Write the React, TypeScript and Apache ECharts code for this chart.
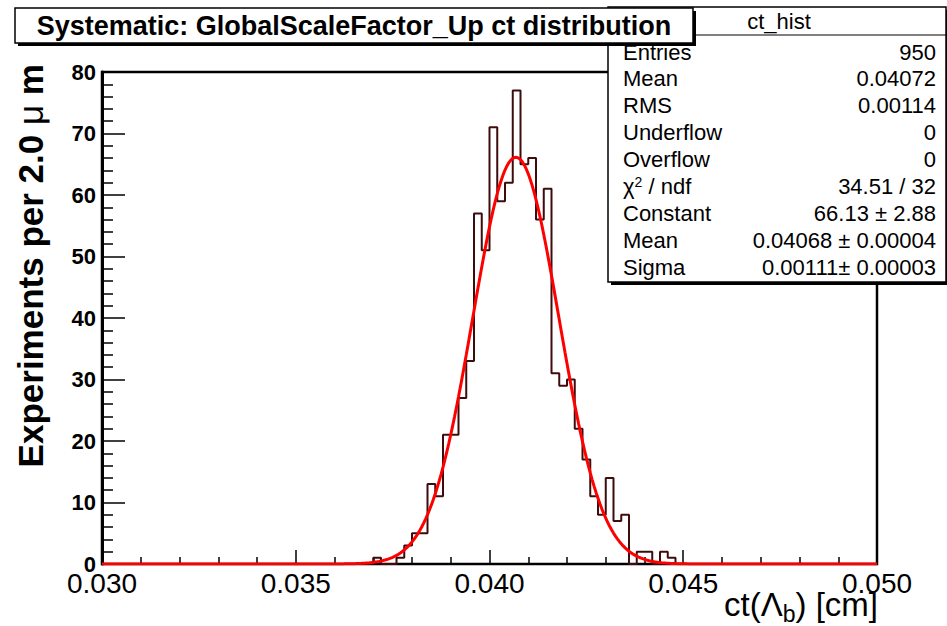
import React, { useEffect, useRef } from 'react';
import * as echarts from 'echarts';

const X_MIN = 0.03;
const X_MAX = 0.05;
const BIN_WIDTH = 0.0002;
const X_LABEL_INTERVAL = 0.005;
const Y_MIN = 0;
const Y_MAX = 80;
const Y_LABEL_INTERVAL = 10;

// 100 bins of 2.0 µm from 0.030 to 0.050 cm
const COUNTS = [
  0, 0, 0, 0, 0, 0, 0, 0, 0, 0,
  0, 0, 0, 0, 0, 0, 0, 0, 0, 0,
  0, 0, 0, 0, 0, 0, 0, 0, 0, 0,
  0, 0, 0, 0, 0, 1, 0, 0, 1, 3,
  5, 5, 13, 11, 21, 21, 27, 33, 57, 51,
  71, 59, 62, 77, 65, 66, 56, 61, 31, 29,
  30, 22, 17, 11, 8, 14, 7, 8, 0, 2,
  2, 0, 2, 1, 0, 0, 0, 0, 0, 0,
  0, 0, 0, 0, 0, 0, 0, 0, 0, 0,
  0, 0, 0, 0, 0, 0, 0, 0, 0, 0,
];

const FIT_CONSTANT = 66.13;
const FIT_MEAN = 0.04068;
const FIT_SIGMA = 0.00111;

const TITLE = 'Systematic: GlobalScaleFactor_Up ct distribution';
const STATS_NAME = 'ct_hist';
const STATS_LABELS = ['Entries', 'Mean', 'RMS', 'Underflow', 'Overflow', '{n|χ}{sup|2}{n| / ndf}', 'Constant', 'Mean', 'Sigma'];
const STATS_VALUES = ['950', '0.04072', '0.00114', '0', '0', '34.51 / 32', '66.13 ± 2.88', '0.04068 ± 0.00004', '0.00111± 0.00003'];

const FONT = '"Liberation Sans", Arial, Helvetica, sans-serif';

export default function App() {
  const ref = useRef<HTMLDivElement>(null);
  useEffect(() => {
    if (!ref.current) return;
    const chart = echarts.init(ref.current, null, { renderer: 'svg' });

    const histData: number[][] = COUNTS.map((c, i) => [X_MIN + i * BIN_WIDTH, c]);
    histData.push([X_MAX, COUNTS[COUNTS.length - 1]]);

    const fitData: number[][] = [];
    const nFit = 400;
    for (let k = 0; k <= nFit; k++) {
      const x = X_MIN + (k * (X_MAX - X_MIN)) / nFit;
      const z = (x - FIT_MEAN) / FIT_SIGMA;
      fitData.push([x, FIT_CONSTANT * Math.exp(-0.5 * z * z)]);
    }

    const rowY0 = 52;
    const rowStep = 26.9;
    const statsTexts: any[] = [];
    STATS_LABELS.forEach((lab, i) => {
      statsTexts.push({
        type: 'text', x: 623, y: rowY0 + i * rowStep, z: 12,
        style: {
          text: lab, fontSize: 22, fontFamily: FONT, fill: '#000',
          align: 'left', verticalAlign: 'middle',
          rich: {
            n: { fontSize: 22, fontFamily: FONT, fill: '#000', lineHeight: 24 },
            sup: { fontSize: 14, fontFamily: FONT, fill: '#000', verticalAlign: 'top', lineHeight: 14 },
          },
        },
      });
      statsTexts.push({
        type: 'text', x: 936, y: rowY0 + i * rowStep, z: 12,
        style: {
          text: STATS_VALUES[i], fontSize: 22, fontFamily: FONT, fill: '#000',
          align: 'right', verticalAlign: 'middle',
        },
      });
    });

    chart.setOption({
      animation: false,
      backgroundColor: '#fff',
      grid: {
        left: 102, right: 70, top: 72, bottom: 62,
        show: true, borderColor: '#000', borderWidth: 2.5, backgroundColor: 'transparent',
      },
      xAxis: {
        type: 'value', min: X_MIN, max: X_MAX, interval: X_LABEL_INTERVAL,
        axisLine: { show: true, onZero: false, lineStyle: { color: '#000', width: 2 } },
        axisTick: { show: true, inside: true, length: 14, lineStyle: { color: '#000', width: 1.5 } },
        minorTick: { show: true, splitNumber: 5, length: 7, lineStyle: { color: '#000', width: 1.5 } },
        splitLine: { show: false },
        minorSplitLine: { show: false },
        axisLabel: {
          fontSize: 28, color: '#000', fontFamily: FONT, margin: 5,
          formatter: (v: number) => v.toFixed(3),
        },
      },
      yAxis: {
        type: 'value', min: Y_MIN, max: Y_MAX, interval: Y_LABEL_INTERVAL,
        axisLine: { show: true, lineStyle: { color: '#000', width: 3 } },
        axisTick: { show: true, inside: true, length: 23, lineStyle: { color: '#000', width: 1.5 } },
        minorTick: { show: true, splitNumber: 5, length: 11, lineStyle: { color: '#000', width: 1.5 } },
        splitLine: { show: false },
        minorSplitLine: { show: false },
        axisLabel: {
          fontSize: 22, fontWeight: 'bold', color: '#000', fontFamily: FONT, margin: 6,
        },
      },
      series: [
        {
          type: 'line', data: histData, step: 'end', symbol: 'none',
          lineStyle: { color: '#3e0c0c', width: 2 }, z: 3,
        },
        {
          type: 'line', data: fitData, symbol: 'none', smooth: false,
          lineStyle: { color: '#ff0000', width: 3 }, z: 4,
        },
      ],
      graphic: [
        // stats box
        { type: 'rect', shape: { x: 611, y: 10, width: 340, height: 275 }, style: { fill: '#000' }, z: 10 },
        { type: 'rect', shape: { x: 608, y: 7, width: 338, height: 275 }, style: { fill: '#fff', stroke: '#000', lineWidth: 1.5 }, z: 11 },
        { type: 'line', shape: { x1: 608, y1: 35, x2: 946, y2: 35 }, style: { stroke: '#000', lineWidth: 1 }, z: 12 },
        {
          type: 'text', x: 779, y: 21, z: 12,
          style: { text: STATS_NAME, fontSize: 22, fontFamily: FONT, fill: '#000', align: 'center', verticalAlign: 'middle' },
        },
        ...statsTexts,
        // title box
        { type: 'rect', shape: { x: 18, y: 11, width: 678, height: 35 }, style: { fill: '#000' }, z: 20 },
        { type: 'rect', shape: { x: 15, y: 8, width: 678, height: 35 }, style: { fill: '#fff', stroke: '#000', lineWidth: 1.5 }, z: 21 },
        {
          type: 'text', x: 354, y: 26, z: 22,
          style: { text: TITLE, fontSize: 27, fontWeight: 'bold', fontFamily: FONT, fill: '#000', align: 'center', verticalAlign: 'middle' },
        },
        // y axis title
        {
          type: 'text', x: 30, y: 64, rotation: Math.PI / 2, z: 22,
          style: {
            text: '{b|Experiments per 2.0 }{m|μ}{b| m}',
            align: 'right', verticalAlign: 'middle', fill: '#000',
            rich: {
              b: { fontSize: 35, fontWeight: 'bold', fontFamily: FONT, fill: '#000' },
              m: { fontSize: 35, fontFamily: FONT, fill: '#000' },
            },
          },
        },
        // x axis title
        {
          type: 'text', x: 878, y: 604, z: 22,
          style: {
            text: '{n|ct(Λ}{s|b}{n|) [cm]}',
            align: 'right', verticalAlign: 'middle', fill: '#000',
            rich: {
              n: { fontSize: 33, fontFamily: FONT, fill: '#000', lineHeight: 42 },
              s: { fontSize: 23, fontFamily: FONT, fill: '#000', verticalAlign: 'bottom', lineHeight: 24 },
            },
          },
        },
      ],
    });
    return () => chart.dispose();
  }, []);
  return (
    <div
      ref={ref}
      style={{ position: 'fixed', left: 0, top: 0, width: 947, height: 626, background: '#fff' }}
    />
  );
}
